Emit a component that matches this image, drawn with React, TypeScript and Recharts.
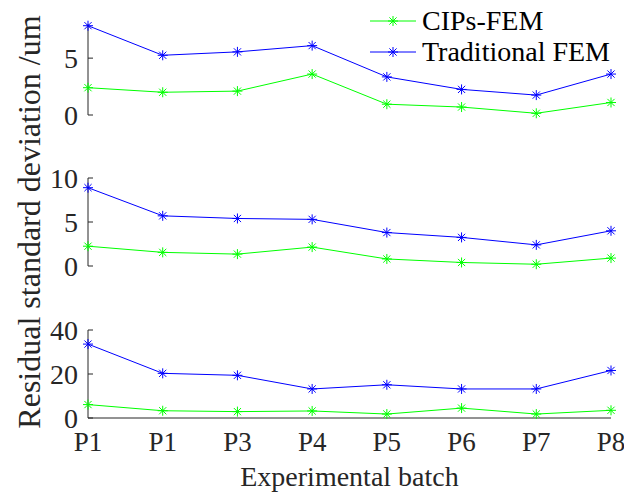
import { LineChart, Line, XAxis, YAxis, Legend } from 'recharts';

// x categories (the second batch really is labelled P1 in the original)
const batches = ['P1', 'P1', 'P3', 'P4', 'P5', 'P6', 'P7', 'P8'];

// top panel
const cipsTop = [2.4, 2.0, 2.1, 3.6, 0.95, 0.7, 0.15, 1.1];
const femTop = [7.85, 5.25, 5.55, 6.1, 3.35, 2.25, 1.75, 3.6];
// middle panel
const cipsMid = [2.25, 1.55, 1.35, 2.15, 0.8, 0.4, 0.2, 0.9];
const femMid = [8.9, 5.7, 5.4, 5.3, 3.8, 3.25, 2.4, 4.0];
// bottom panel
const cipsBot = [6.1, 3.3, 2.9, 3.2, 1.8, 4.5, 1.8, 3.5];
const femBot = [33.6, 20.3, 19.4, 13.2, 15.1, 13.2, 13.2, 21.6];

const topTicks = [0, 5];
const midTicks = [0, 5, 10];
const botTicks = [0, 20, 40];

const GREEN = '#00ff00';
const BLUE = '#0000ff';
const INK = '#262626';
const FONT = '"Liberation Serif", "Times New Roman", serif';

const toRows = (cips: number[], fem: number[]) =>
  batches.map((b, i) => ({ idx: i, batch: b, cips: cips[i], fem: fem[i] }));

// matlab style '*' marker
const Star = ({ cx, cy, stroke }: any) => {
  if (cx == null || cy == null) return null;
  const r = 5;
  const d = 3.6;
  return (
    <g stroke={stroke} strokeWidth={1}>
      <line x1={cx - r} x2={cx + r} y1={cy} y2={cy} />
      <line x1={cx} x2={cx} y1={cy - r} y2={cy + r} />
      <line x1={cx - d} y1={cy - d} x2={cx + d} y2={cy + d} />
      <line x1={cx - d} y1={cy + d} x2={cx + d} y2={cy - d} />
    </g>
  );
};

// label on the left plus a short tick pointing into the plot
const YTick = ({ x, y, payload }: any) => (
  <g>
    <line x1={x + 10} x2={x + 15} y1={y} y2={y} stroke={INK} />
    <text x={x} y={y} dy="0.34em" textAnchor="end" fontSize={28} fill={INK} fontFamily={FONT}>
      {payload.value}
    </text>
  </g>
);

const renderLegend = (props: any) => (
  <div style={{ fontFamily: FONT, fontSize: 28, color: '#000' }}>
    {(props.payload || []).map((entry: any) => (
      <div key={entry.value} style={{ display: 'flex', alignItems: 'center', height: 31 }}>
        <svg width={50} height={30}>
          <line x1={2} x2={48} y1={15} y2={15} stroke={entry.color} />
          <Star cx={25} cy={15} stroke={entry.color} />
        </svg>
        <span style={{ marginLeft: 4, lineHeight: 1 }}>{entry.value}</span>
      </div>
    ))}
  </div>
);

interface PanelProps {
  top: number;
  height: number;
  margin: { top: number; bottom: number };
  rows: any[];
  domain: [number, number];
  ticks: number[];
  showX?: boolean;
  showLegend?: boolean;
}

function Panel({ top, height, margin, rows, domain, ticks, showX, showLegend }: PanelProps) {
  return (
    <div style={{ position: 'absolute', top, left: 0 }}>
      <LineChart
        width={624}
        height={height}
        data={rows}
        margin={{ top: margin.top, right: 13, bottom: margin.bottom, left: 0 }}
      >
        <XAxis
          dataKey="idx"
          type="number"
          domain={[0, batches.length - 1]}
          ticks={batches.map((_, i) => i)}
          interval={0}
          tickFormatter={(v: number) => batches[v]}
          axisLine={{ stroke: INK }}
          tickLine={false}
          tickSize={0}
          tickMargin={14}
          height={showX ? 76 : 0}
          tick={showX ? { fontSize: 27, fill: INK, fontFamily: FONT } : false}
          label={
            showX
              ? {
                  value: 'Experimental batch',
                  position: 'insideBottom',
                  offset: 8,
                  fontSize: 28,
                  fill: INK,
                  fontFamily: FONT,
                }
              : undefined
          }
        />
        <YAxis
          type="number"
          domain={domain}
          ticks={ticks}
          interval={0}
          width={88}
          axisLine={{ stroke: INK }}
          tickLine={false}
          tickSize={0}
          tickMargin={10}
          tick={<YTick />}
        />
        {showLegend && (
          <Legend
            layout="vertical"
            align="center"
            verticalAlign="middle"
            content={renderLegend}
            wrapperStyle={{ left: 368, top: 5, width: 256 }}
          />
        )}
        <Line
          dataKey="cips"
          name="CIPs-FEM"
          stroke={GREEN}
          strokeWidth={1}
          dot={(p: any) => <Star key={`c${p.index}`} {...p} />}
          isAnimationActive={false}
        />
        <Line
          dataKey="fem"
          name="Traditional FEM"
          stroke={BLUE}
          strokeWidth={1}
          dot={(p: any) => <Star key={`f${p.index}`} {...p} />}
          isAnimationActive={false}
        />
      </LineChart>
    </div>
  );
}

export default function App() {
  return (
    <div
      style={{
        position: 'absolute',
        top: 0,
        left: 0,
        width: 624,
        height: 494,
        background: '#fff',
        fontFamily: FONT,
        overflow: 'hidden',
      }}
    >
      <style>{'.recharts-surface { overflow: visible; }'}</style>
      <Panel
        top={0}
        height={140}
        margin={{ top: 24, bottom: 25 }}
        rows={toRows(cipsTop, femTop)}
        domain={[0, 8]}
        ticks={topTicks}
        showLegend
      />
      <Panel
        top={150}
        height={140}
        margin={{ top: 28, bottom: 24 }}
        rows={toRows(cipsMid, femMid)}
        domain={[0, 10]}
        ticks={midTicks}
      />
      <Panel
        top={300}
        height={194}
        margin={{ top: 30, bottom: 0 }}
        rows={toRows(cipsBot, femBot)}
        domain={[0, 40]}
        ticks={botTicks}
        showX
      />
      <div
        style={{
          position: 'absolute',
          left: 29,
          top: 222,
          transform: 'translate(-50%, -50%) rotate(-90deg)',
          whiteSpace: 'nowrap',
          fontSize: 32,
          lineHeight: 1,
          color: INK,
        }}
      >
        Residual standard deviation /um
      </div>
    </div>
  );
}
